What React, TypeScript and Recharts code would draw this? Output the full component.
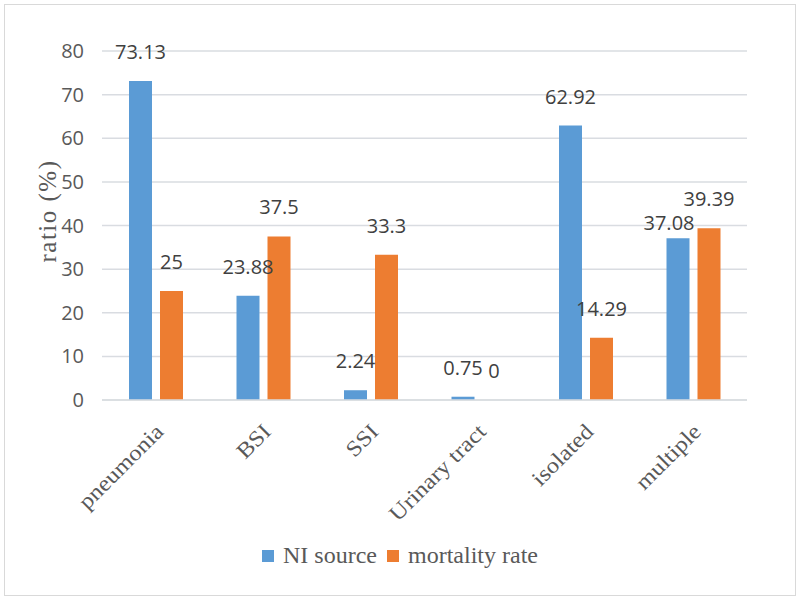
import React from 'react';
import { BarChart, Bar, XAxis, YAxis, CartesianGrid, Legend, LabelList } from 'recharts';

const categories = ['pneumonia', 'BSI', 'SSI', 'Urinary tract', 'isolated', 'multiple'];
const niSource = [73.13, 23.88, 2.24, 0.75, 62.92, 37.08];
const mortalityRate = [25, 37.5, 33.3, 0, 14.29, 39.39];
const yTicks = [0, 10, 20, 30, 40, 50, 60, 70, 80];

const BLUE = '#5B9BD5';
const ORANGE = '#ED7D31';
const SERIF = '"Liberation Serif", "DejaVu Serif", serif';
const SANS = '"Open Sans", "Liberation Sans", sans-serif';

const data = categories.map((name, i) => ({
  name,
  ni: niSource[i],
  mortality: mortalityRate[i],
}));

const CategoryTick = (props: any) => {
  const { x, y, payload } = props;
  return (
    <g transform={`translate(${x + 9},${y + 25})`}>
      <text
        textAnchor="end"
        transform="rotate(-45) scale(1.12,1)"
        fill="#595959"
        fontFamily={SERIF}
        fontSize={22}
      >
        {payload.value}
      </text>
    </g>
  );
};

// the NI label over "multiple" sits lower and to the left in the original
const makeLabel = (series: string) => (props: any) => {
  const { x, y, width, value, index } = props;
  let dx = 0;
  let dy = 0;
  if (series === 'ni' && index === 5) {
    dx = -9;
    dy = 14;
  }
  return (
    <text
      x={x + width / 2 + dx}
      y={y - 22 + dy}
      textAnchor="middle"
      fill="#404040"
      fontFamily={SANS}
      fontSize={20}
    >
      {value}
    </text>
  );
};

const LegendContent = () => (
  <div style={{ display: 'flex', justifyContent: 'center', alignItems: 'center', fontFamily: SERIF, fontSize: 24, color: '#595959' }}>
    <span style={{ width: 12, height: 12, background: BLUE, display: 'inline-block', marginRight: 9 }} />
    <span style={{ marginRight: 10 }}>NI source</span>
    <span style={{ width: 12, height: 12, background: ORANGE, display: 'inline-block', marginRight: 9 }} />
    <span>mortality rate</span>
  </div>
);

const YLabel = () => (
  <text
    x={47}
    y={211}
    transform="rotate(-90, 47, 211)"
    textAnchor="middle"
    dominantBaseline="central"
    fill="#595959"
    fontFamily={SERIF}
    fontSize={25}
    letterSpacing={1.5}
  >
    ratio (%)
  </text>
);

export default function App() {
  return (
    <div style={{ position: 'absolute', left: 0, top: 0, width: 800, height: 601, background: '#fff' }}>
      <div
        style={{
          position: 'absolute',
          left: 4,
          top: 4,
          width: 790,
          height: 590,
          border: '1.5px solid #D9D9D9',
        }}
      />
      <BarChart
        width={800}
        height={601}
        data={data}
        margin={{ top: 51, right: 53, left: 0, bottom: 29 }}
        barSize={23}
        barGap={8}
      >
        <CartesianGrid vertical={false} stroke="#D9DCE1" strokeWidth={1.5} />
        <XAxis
          dataKey="name"
          interval={0}
          height={142}
          tickLine={false}
          axisLine={{ stroke: '#D9DCE1', strokeWidth: 1.5 }}
          tick={<CategoryTick />}
        />
        <YAxis
          width={102}
          domain={[0, 80]}
          ticks={yTicks}
          tickLine={false}
          axisLine={false}
          tickMargin={12}
          tick={{ fill: '#595959', fontFamily: SANS, fontSize: 20 }}
          label={<YLabel />}
        />
        <Legend
          verticalAlign="bottom"
          height={30}
          content={<LegendContent />}
          wrapperStyle={{ left: 0, width: 800 }}
        />
        <Bar dataKey="ni" name="NI source" fill={BLUE} isAnimationActive={false}>
          <LabelList dataKey="ni" content={makeLabel('ni')} />
        </Bar>
        <Bar dataKey="mortality" name="mortality rate" fill={ORANGE} minPointSize={0.01} isAnimationActive={false}>
          <LabelList dataKey="mortality" content={makeLabel('mortality')} />
        </Bar>
      </BarChart>
    </div>
  );
}
